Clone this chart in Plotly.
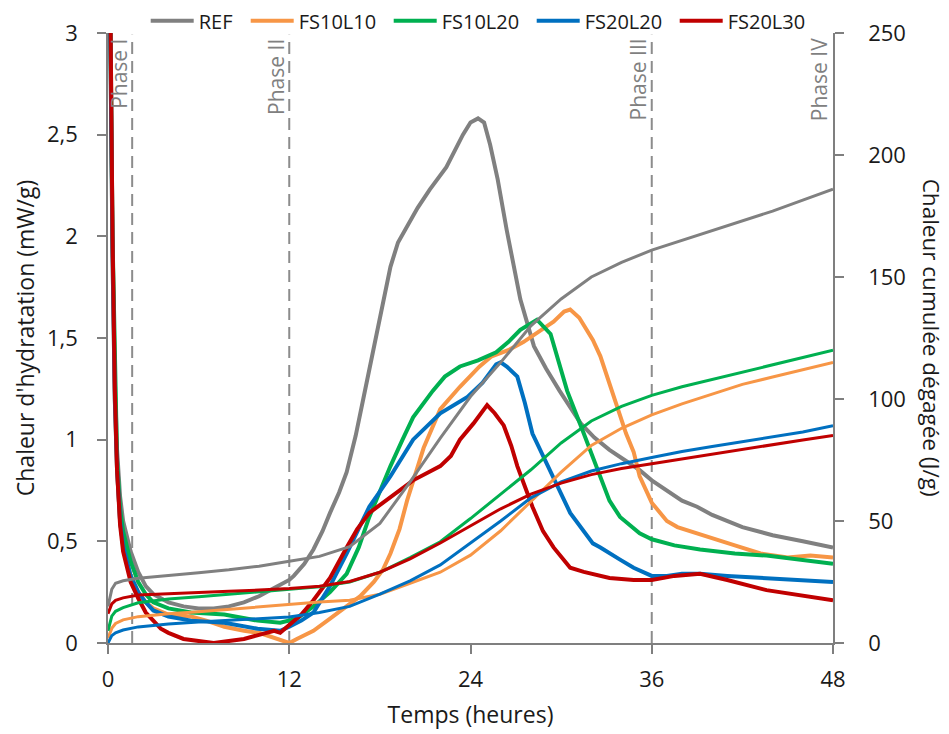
import plotly.graph_objects as go

# ---------------- data ----------------
series_names = ["REF", "FS10L10", "FS10L20", "FS20L20", "FS20L30"]
series_colors = ["#808080", "#F79646", "#00B050", "#0070C0", "#C00000"]

# heat flow (mW/g) - time (h) / value pairs per series
ref_t = [0, 0.15, 0.3, 0.45, 0.6, 0.8, 1, 1.5, 2, 2.5, 3, 4, 5, 6, 7, 8, 9, 10, 11, 12, 12.3, 13, 13.6, 14.2, 14.7, 15.3, 15.8, 16.4, 16.9, 17.5, 18.2, 18.7, 19.2, 19.8, 20.5, 21.3, 22.4, 23.5, 24.0, 24.5, 24.9, 25.3, 25.8, 26.4, 26.9, 27.3, 28.2, 29.0, 29.9, 31.3, 32.2, 33.2, 34.2, 35.2, 36, 37, 38, 39, 40, 42, 44, 46, 48]
ref_v = [6.0, 3.2, 2.0, 1.3, 0.95, 0.72, 0.6, 0.45, 0.35, 0.28, 0.24, 0.2, 0.18, 0.17, 0.17, 0.18, 0.2, 0.23, 0.27, 0.31, 0.33, 0.39, 0.46, 0.55, 0.64, 0.74, 0.84, 1.02, 1.2, 1.42, 1.69, 1.85, 1.97, 2.05, 2.14, 2.23, 2.34, 2.5, 2.56, 2.58, 2.56, 2.45, 2.28, 2.03, 1.84, 1.69, 1.46, 1.35, 1.24, 1.08, 1.01, 0.95, 0.9, 0.85, 0.8, 0.75, 0.7, 0.67, 0.63, 0.57, 0.53, 0.5, 0.47]

fs1010_t = [0, 0.15, 0.3, 0.45, 0.6, 0.8, 1, 1.5, 2, 2.5, 3, 4, 5.5, 6.5, 7.7, 9, 10, 11.1, 12, 12.5, 13.6, 14.7, 15.8, 16.7, 17.6, 18.2, 18.7, 19.3, 19.8, 20.4, 20.9, 22, 23.3, 24.6, 25.4, 26.5, 27.5, 28.5, 29.5, 30.2, 30.6, 31.2, 32.1, 32.6, 33.2, 34.3, 34.8, 35.2, 36, 37, 37.7, 39.7, 41.5, 43.2, 45, 46.5, 48]
fs1010_v = [6.0, 3.0, 1.9, 1.2, 0.85, 0.6, 0.48, 0.33, 0.25, 0.2, 0.17, 0.14, 0.13, 0.11, 0.08, 0.06, 0.05, 0.02, 0.0, 0.02, 0.06, 0.12, 0.18, 0.23, 0.3, 0.36, 0.44, 0.56, 0.7, 0.84, 0.96, 1.15, 1.26, 1.36, 1.41, 1.44, 1.48, 1.53, 1.58, 1.63, 1.64, 1.6, 1.49, 1.41, 1.28, 1.03, 0.94, 0.82, 0.69, 0.6, 0.57, 0.52, 0.48, 0.44, 0.42, 0.43, 0.42]

fs1020_t = [0, 0.15, 0.3, 0.45, 0.6, 0.8, 1, 1.5, 2, 2.5, 3, 4, 5.5, 7.7, 9.9, 11.4, 12.5, 13.6, 14.7, 15.8, 16.6, 17.3, 18, 18.7, 19.5, 20.2, 21.5, 22.3, 23.3, 24.5, 25.7, 26.5, 27.3, 28.1, 28.4, 29.3, 30.4, 31.5, 32.6, 33.2, 33.9, 35.2, 36, 37.5, 39.2, 41.5, 43.6, 46, 48]
fs1020_v = [6.0, 3.1, 2.0, 1.3, 0.9, 0.66, 0.55, 0.4, 0.3, 0.24, 0.2, 0.17, 0.15, 0.14, 0.11, 0.1, 0.12, 0.18, 0.25, 0.34, 0.47, 0.62, 0.75, 0.87, 1.0, 1.11, 1.24, 1.31, 1.36, 1.39, 1.43, 1.48, 1.54, 1.58, 1.59, 1.52, 1.24, 1.03, 0.81, 0.7, 0.62, 0.54, 0.51, 0.48, 0.46, 0.44, 0.43, 0.41, 0.39]

fs2020_t = [0, 0.15, 0.3, 0.45, 0.6, 0.8, 1, 1.5, 2, 2.5, 3, 4, 5.5, 7.7, 9.9, 11.4, 12, 12.8, 13.6, 14.7, 15.8, 16.6, 17.3, 18.7, 20.2, 22, 23.8, 24.8, 25.7, 26.0, 26.4, 27.1, 27.6, 28.1, 29.3, 30.6, 32.1, 32.6, 33.9, 34.8, 36, 37, 38, 39.2, 41, 43.6, 46, 48]
fs2020_v = [6.0, 3.0, 1.9, 1.2, 0.85, 0.6, 0.48, 0.33, 0.25, 0.2, 0.16, 0.13, 0.11, 0.1, 0.07, 0.06, 0.08, 0.11, 0.15, 0.28, 0.44, 0.56, 0.67, 0.82, 1.0, 1.13, 1.21, 1.28, 1.37, 1.38, 1.36, 1.31, 1.18, 1.03, 0.84, 0.64, 0.49, 0.47, 0.41, 0.37, 0.33, 0.33, 0.34, 0.34, 0.33, 0.32, 0.31, 0.3]

fs2030_t = [0, 0.15, 0.3, 0.45, 0.6, 0.8, 1, 1.5, 2, 2.5, 3, 3.5, 4, 5, 6, 7, 8, 9, 10, 11, 11.4, 12, 12.8, 13.6, 14.7, 15.8, 16.5, 17.3, 18.7, 20.2, 22, 22.7, 23.3, 24.2, 25.1, 25.6, 26.2, 26.7, 27.1, 28.1, 28.8, 29.5, 30.6, 31.5, 33.2, 34.8, 36, 37.5, 39.2, 41, 43.6, 46, 48]
fs2030_v = [6.0, 3.2, 2.0, 1.25, 0.85, 0.58, 0.45, 0.3, 0.22, 0.15, 0.11, 0.07, 0.05, 0.02, 0.01, 0.0, 0.01, 0.02, 0.04, 0.06, 0.05, 0.09, 0.14, 0.21, 0.32, 0.47, 0.56, 0.64, 0.72, 0.8, 0.87, 0.92, 1.0, 1.08, 1.17, 1.13, 1.07, 0.97, 0.87, 0.67, 0.55, 0.47, 0.37, 0.35, 0.32, 0.31, 0.31, 0.33, 0.34, 0.31, 0.26, 0.23, 0.21]

# cumulative heat (J/g) on a shared time grid
cum_t = [0, 0.25, 0.5, 1, 2, 4, 6, 8, 10, 12, 14, 16, 18, 20, 22, 24, 26, 28, 30, 32, 34, 36, 38, 40, 42, 44, 46, 48]
ref_cum = [15, 22, 24.5, 25.5, 26.5, 27.8, 28.8, 30, 31.5, 33.5, 35.5, 39.5, 49, 66, 84, 101, 115, 130, 141, 150, 156, 161, 165, 169, 173, 177, 181.5, 186]
fs1010_cum = [2, 6, 8, 9.5, 10.8, 12, 12.8, 13.8, 15, 16, 16.8, 17.5, 20, 24.5, 29, 36, 46, 58, 70, 81, 88, 93.5, 98, 102, 106, 109, 112, 115]
fs1020_cum = [5, 11, 13, 14.5, 16.5, 18, 19, 20, 21, 22, 23, 25, 29, 35, 41.5, 51, 61, 71, 82, 91, 97, 101.5, 105, 108, 111, 114, 117, 120]
fs2020_cum = [0, 3, 4.2, 5.3, 6.6, 7.8, 8.6, 9.3, 10, 10.7, 12.5, 15, 20, 25.5, 32, 41, 50, 59.5, 66, 70.5, 73.5, 76, 78.5, 80.5, 82.5, 84.5, 86.5, 89]
fs2030_cum = [12, 16, 17.5, 18.5, 19.7, 20.3, 20.8, 21.2, 21.7, 22.3, 23.3, 25.2, 29, 34.5, 41, 48, 55, 61, 65.5, 69, 71.5, 73.5, 75.5, 77.5, 79.5, 81.5, 83.2, 85]

heat_t = [ref_t, fs1010_t, fs1020_t, fs2020_t, fs2030_t]
heat_v = [ref_v, fs1010_v, fs1020_v, fs2020_v, fs2030_v]
cum_v = [ref_cum, fs1010_cum, fs1020_cum, fs2020_cum, fs2030_cum]

x_ticks = [0, 12, 24, 36, 48]
y_tick_vals = [0, 0.5, 1, 1.5, 2, 2.5, 3]
y_tick_labels = ["0", "0,5", "1", "1,5", "2", "2,5", "3"]
y2_ticks = [0, 50, 100, 150, 200, 250]

phase_times = [1.6, 12, 36, 48]
phase_labels = ["Phase I", "Phase II", "Phase III", "Phase IV"]

x_title = "Temps (heures)"
y_title = "Chaleur d'hydratation (mW/g)"
y2_title = "Chaleur cumulée dégagée (J/g)"

# ---------------- figure ----------------
FONT = "Open Sans"
AXC = "#7f7f7f"
TXT = "#1a1a1a"

fig = go.Figure()

for name, col, t, v in zip(series_names, series_colors, heat_t, heat_v):
    fig.add_trace(go.Scatter(x=t, y=v, mode="lines", name=name,
                             line=dict(color=col, width=4), yaxis="y",
                             legendwidth=42 if name == "REF" else 85))

for name, col, v in zip(series_names, series_colors, cum_v):
    fig.add_trace(go.Scatter(x=cum_t, y=v, mode="lines", name=name + " cumul",
                             showlegend=False, line=dict(color=col, width=3),
                             yaxis="y2"))

shapes = []
annotations = []
for pt, pl in zip(phase_times, phase_labels):
    if pt < 48:
        shapes.append(dict(type="line", xref="x", yref="paper", x0=pt, x1=pt,
                           y0=0, y1=0.997, line=dict(color="#8c8c8c", width=2,
                                                     dash="12px,7px"),
                           layer="below"))
    annotations.append(dict(x=pt, xref="x", y=0.994, yref="paper", text=pl,
                            showarrow=False, textangle=-90, xanchor="right",
                            yanchor="top", xshift=2,
                            font=dict(family=FONT, size=21, color="#808080")))

# right axis title reads top-to-bottom as in the original
annotations.append(dict(x=1.137, xref="paper", y=0.5, yref="paper",
                        text=y2_title, showarrow=False, textangle=90,
                        xanchor="center", yanchor="middle",
                        font=dict(family=FONT, size=22.5, color=TXT)))

# the page body adds an 8 px offset, so the figure is 8 px smaller
fig.update_layout(
    width=941, height=726,
    margin=dict(l=100, r=116, t=25, b=91, autoexpand=False),
    paper_bgcolor="white", plot_bgcolor="white",
    font=dict(family=FONT, size=22, color=TXT),
    showlegend=True,
    legend=dict(orientation="h", x=0.052, xanchor="left", y=1.02,
                yanchor="middle", font=dict(size=20, color=TXT),
                itemwidth=43, bgcolor="rgba(0,0,0,0)"),
    xaxis=dict(range=[0, 48], tickvals=x_ticks, showgrid=False, zeroline=False,
               showline=True, linecolor=AXC, linewidth=1.5, ticks="outside",
               ticklen=9, tickcolor=AXC, tickwidth=1.5, ticklabelstandoff=7,
               tickfont=dict(size=22, color=TXT),
               title=dict(text=x_title, font=dict(size=23, color=TXT),
                          standoff=15)),
    yaxis=dict(range=[0, 3], tickvals=y_tick_vals, ticktext=y_tick_labels,
               showgrid=False, zeroline=False, showline=True, linecolor=AXC,
               linewidth=1.5, ticks="outside", ticklen=9, tickcolor=AXC,
               tickwidth=1.5, ticklabelstandoff=15,
               tickfont=dict(size=22, color=TXT),
               title=dict(text=y_title, font=dict(size=23, color=TXT),
                          standoff=6)),
    yaxis2=dict(range=[0, 250], tickvals=y2_ticks, overlaying="y", side="right",
                anchor="x", showgrid=False, zeroline=False, showline=True,
                linecolor=AXC, linewidth=1.5, ticks="outside", ticklen=9,
                tickcolor=AXC, tickwidth=1.5, ticklabelstandoff=20,
                tickfont=dict(size=22, color=TXT)),
    shapes=shapes,
    annotations=annotations,
)

fig.write_html("out.html")
